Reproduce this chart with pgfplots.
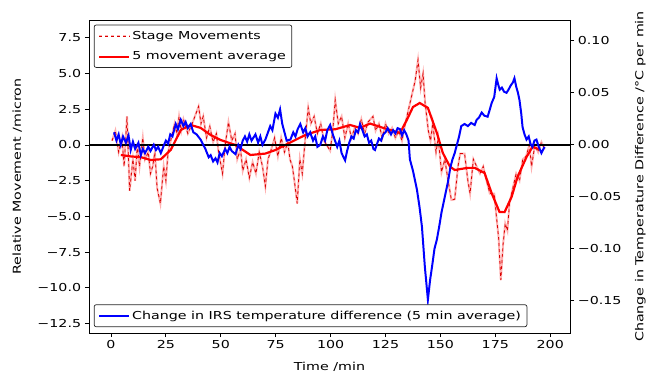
\documentclass[border=0pt]{standalone}
\usepackage{fontspec}
\setmainfont{DejaVu Sans}[FakeStretch=1.3]
\usepackage{pgfplots}
\pgfplotsset{compat=1.18}
\pgfplotsset{
  common/.style={
    scale only axis, width=481bp, height=313bp,
    xmin=-10, xmax=209,
    axis line style={line width=0.9pt, black},
    tick style={line width=0.8pt, black},
    major tick length=4bp, tick align=outside,
    /pgf/number format/assume math mode=true,
    legend cell align=left,
    legend style={draw=black!85, line width=0.7pt, rounded corners=2bp, fill=white,
      font=\fontsize{11}{13}\selectfont, inner xsep=4bp, inner ysep=4bp, row sep=7bp},
    legend image code/.code={\draw[#1] (0bp,0bp) -- (30bp,0bp);},
  }
}
\begin{document}
\fontsize{11}{13}\selectfont
\begin{tikzpicture}
\begin{axis}[common,
  ymin=-13.16, ymax=8.75,
  xtick pos=bottom, ytick pos=left,
  xtick={0,25,50,75,100,125,150,175,200},
  ytick={-12.5,-10,-7.5,-5,-2.5,0,2.5,5,7.5},
  yticklabels={−12.5,−10.0,−7.5,−5.0,−2.5,0.0,2.5,5.0,7.5},
  xlabel={Time /min}, ylabel={Relative Movement /micron},
  xlabel style={yshift=-6bp}, ylabel style={yshift=8bp},
  legend style={at={(0.01,0.985)}, anchor=north west},
]
\addplot[red!30, line width=2pt, forget plot] coordinates {
(0.5,0.3)(2,1.0)(3.5,-0.5)(5,0.5)(6,-1.5)(7.3,2.0)(8.5,-3.2)(10,-1.0)(11,-2.5)(12,0.0)
(13,-1.5)(14.5,0.5)(15.5,-1.0)(17,-0.5)(18,-2.0)(19,-1.5)(20,-0.5)(21,-3.0)(22.5,-4.1)(24,-1.5)
(25,-2.5)(26,-0.5)(27.5,0.5)(29,1.5)(30,0.8)(31,2.0)(32,1.0)(33,1.8)(35,0.8)(37,1.5)
(39.9,2.7)(41,1.5)(42,2.0)(43.5,0.5)(45,1.3)(46.5,0.2)(48,0.8)(49,-0.5)(50.8,-2.0)(52,0.0)
(53.5,1.6)(55,0.3)(56.5,0.8)(57.5,-1.0)(59,-0.3)(60,-1.8)(61.5,-1.0)(63,-2.3)(64.5,-1.2)(66,-2.0)
(67.5,-0.5)(69,-1.5)(70.3,-2.9)(71.5,-1.0)(73,-0.3)(74.5,0.5)(76,-0.8)(77.5,0.5)(79,-0.5)(80.5,0.2)
(81.5,-1.0)(82.6,-1.5)(83.5,-2.5)(84.8,-4.1)(86,-1.0)(87.1,-2.0)(88.5,0.5)(89.8,2.6)(91,1.5)(92.5,2.0)
(94,0.8)(95.5,1.5)(97,0.3)(99.8,-0.4)(101,1.0)(102.1,3.15)(103.5,1.5)(105,2.0)(106.5,0.5)(108,1.5)
(109.5,0.5)(111,1.2)(112.5,0.8)(114,1.8)(115.5,0.8)(117,1.6)(119.3,2.0)(120.5,1.0)(122,1.5)(123.5,0.5)
(125,1.5)(126.5,0.8)(128,1.2)(129.5,0.5)(131,1.0)(132.5,0.3)(134,1.5)(135.5,2.5)(137,3.5)(138.5,4.5)
(139.8,5.95)(141,4.0)(142.1,5.0)(143,3.0)(144.5,1.0)(145.5,0.3)(146.5,1.5)(148,-0.5)(149,0.5)(150.5,-1.9)
(152,-1.0)(153.5,-2.5)(155,-3.85)(156.5,-3.8)(158,-1.5)(159,-0.6)(161,-0.6)(162.5,-2.5)(163.5,-3.4)(165,-1.0)
(166.5,-1.5)(168,-2.0)(169.5,-1.5)(171,-2.5)(172.5,-3.4)(174.5,-3.4)(175.5,-5.0)(176.5,-6.5)(177.5,-9.45)(178.5,-7.0)
(179.5,-5.5)(180.5,-6.0)(181.5,-4.0)(183,-3.0)(184.5,-2.0)(186,-2.5)(187.5,-1.0)(189,-0.8)(190.5,0.0)(191.5,-1.5)
(193,0.0)(194.5,-0.5)(196,0.2)(197.5,-0.3)
};
\addplot[red!85!black, line width=0.8pt, dashed,
  legend image code/.code={\draw[red!30, line width=2pt] (0bp,0bp) -- (30bp,0bp); \draw[red!85!black, line width=0.8pt] (0bp,0bp) -- (30bp,0bp);}] coordinates {
(0.5,0.3)(2,1.0)(3.5,-0.5)(5,0.5)(6,-1.5)(7.3,2.0)(8.5,-3.2)(10,-1.0)(11,-2.5)(12,0.0)
(13,-1.5)(14.5,0.5)(15.5,-1.0)(17,-0.5)(18,-2.0)(19,-1.5)(20,-0.5)(21,-3.0)(22.5,-4.1)(24,-1.5)
(25,-2.5)(26,-0.5)(27.5,0.5)(29,1.5)(30,0.8)(31,2.0)(32,1.0)(33,1.8)(35,0.8)(37,1.5)
(39.9,2.7)(41,1.5)(42,2.0)(43.5,0.5)(45,1.3)(46.5,0.2)(48,0.8)(49,-0.5)(50.8,-2.0)(52,0.0)
(53.5,1.6)(55,0.3)(56.5,0.8)(57.5,-1.0)(59,-0.3)(60,-1.8)(61.5,-1.0)(63,-2.3)(64.5,-1.2)(66,-2.0)
(67.5,-0.5)(69,-1.5)(70.3,-2.9)(71.5,-1.0)(73,-0.3)(74.5,0.5)(76,-0.8)(77.5,0.5)(79,-0.5)(80.5,0.2)
(81.5,-1.0)(82.6,-1.5)(83.5,-2.5)(84.8,-4.1)(86,-1.0)(87.1,-2.0)(88.5,0.5)(89.8,2.6)(91,1.5)(92.5,2.0)
(94,0.8)(95.5,1.5)(97,0.3)(99.8,-0.4)(101,1.0)(102.1,3.15)(103.5,1.5)(105,2.0)(106.5,0.5)(108,1.5)
(109.5,0.5)(111,1.2)(112.5,0.8)(114,1.8)(115.5,0.8)(117,1.6)(119.3,2.0)(120.5,1.0)(122,1.5)(123.5,0.5)
(125,1.5)(126.5,0.8)(128,1.2)(129.5,0.5)(131,1.0)(132.5,0.3)(134,1.5)(135.5,2.5)(137,3.5)(138.5,4.5)
(139.8,5.95)(141,4.0)(142.1,5.0)(143,3.0)(144.5,1.0)(145.5,0.3)(146.5,1.5)(148,-0.5)(149,0.5)(150.5,-1.9)
(152,-1.0)(153.5,-2.5)(155,-3.85)(156.5,-3.8)(158,-1.5)(159,-0.6)(161,-0.6)(162.5,-2.5)(163.5,-3.4)(165,-1.0)
(166.5,-1.5)(168,-2.0)(169.5,-1.5)(171,-2.5)(172.5,-3.4)(174.5,-3.4)(175.5,-5.0)(176.5,-6.5)(177.5,-9.45)(178.5,-7.0)
(179.5,-5.5)(180.5,-6.0)(181.5,-4.0)(183,-3.0)(184.5,-2.0)(186,-2.5)(187.5,-1.0)(189,-0.8)(190.5,0.0)(191.5,-1.5)
(193,0.0)(194.5,-0.5)(196,0.2)(197.5,-0.3)
};
\addlegendentry{Stage Movements}
\addplot[red, line width=2.2pt] coordinates {
(4.5,-0.7)(9.1,-0.8)(13.6,-0.85)(18.1,-1.05)(22.7,-1.0)(27.2,-0.35)(31.8,1.05)(36.3,1.4)(40.8,1.2)(45.4,0.7)
(49.9,0.35)(56.7,0.0)(63.5,-0.7)(70.3,-0.6)(74.9,-0.35)(79.4,0.0)(83.9,0.35)(88.5,0.7)(95.3,1.05)(102.1,1.1)
(108.9,1.4)(113.4,1.2)(118.0,1.5)(123.9,1.2)(131.6,0.84)(134.7,1.75)(137.5,2.66)(140.6,2.94)(144.3,2.6)(148.4,0.84)
(151.1,-0.56)(154.3,-1.5)(156.5,-1.75)(162.4,-1.6)(165.6,-1.6)(170.1,-1.96)(173.3,-3.36)(176.9,-4.69)(179.2,-4.7)(182.4,-3.64)
(185.1,-2.24)(189.2,-0.84)(191.9,-0.14)(195.1,-0.3)
};
\addlegendentry{5 movement average}
\addplot[black, line width=1.2pt, forget plot] coordinates {(-10,0) (209,0)};
\end{axis}
\begin{axis}[common,
  ymin=-0.181, ymax=0.120,
  axis x line=none, axis y line*=right,
  ytick={-0.15,-0.10,-0.05,0,0.05,0.10},
  yticklabels={−0.15,−0.10,−0.05,0.00,0.05,0.10},
  ylabel={Change in Temperature Difference /°C per min},
  ylabel style={yshift=-6bp},
  legend style={at={(0.01,0.019)}, anchor=south west},
]
\addplot[blue, line width=2pt] coordinates {
(1.4,0.012)(2.5,0.004)(3.5,0.010)(4.5,0.0)(5.5,0.008)(6.8,0.002)(8,0.009)(9,-0.005)(10,0.003)(11,-0.004)
(12.5,0.002)(13.6,-0.010)(14.5,-0.004)(15.5,-0.008)(17,-0.002)(18,-0.006)(19.5,0.0)(20.5,-0.005)(21.5,-0.002)(22.7,-0.008)
(24,-0.001)(25,0.004)(26,0.001)(27,0.010)(28,0.008)(29.5,0.020)(30.5,0.015)(31.8,0.024)(33,0.018)(34,0.022)
(35,0.016)(36.3,0.020)(37.5,0.012)(39,0.010)(40.8,0.005)(42,0.0)(43,-0.004)(44.5,-0.012)(45.4,-0.010)(46.5,-0.016)
(47.6,-0.013)(48.5,-0.017)(49.5,-0.008)(50.5,-0.011)(52,-0.004)(53,-0.008)(54,-0.002)(55,-0.006)(56.7,-0.009)(58,0.0)
(59,-0.004)(60,0.004)(61,0.008)(62,0.003)(63,0.010)(64,0.004)(65.8,0.010)(67,0.002)(68,0.008)(69,0.0)
(70.3,0.005)(71.5,0.012)(72.5,0.018)(73.5,0.014)(74.9,0.030)(76,0.026)(77,0.034)(78,0.020)(79,0.012)(80,0.004)
(81.7,0.005)(83,0.012)(84,0.008)(85,0.015)(86.2,0.020)(87.5,0.012)(88.5,0.016)(89.5,0.008)(90.7,0.012)(92,0.004)
(93,0.008)(94,-0.002)(95.3,0.0)(96.5,0.008)(97.5,0.004)(98.5,0.014)(99.8,0.019)(101,0.010)(102,0.004)(103,-0.002)
(104,0.004)(105,-0.008)(106.6,-0.015)(107.5,-0.006)(108.5,0.002)(109.5,0.008)(110.5,0.006)(111.5,0.014)(112.5,0.012)(113.4,0.020)
(114.5,0.014)(115.5,0.008)(116.5,0.010)(117.5,0.002)(118.5,0.004)(119.5,-0.004)(120.2,-0.005)(121,0.0)(122,0.006)(123,0.004)
(124,0.010)(125,0.012)(126,0.016)(127.5,0.010)(128.5,0.014)(129.5,0.011)(130.5,0.016)(131.6,0.015)(132.5,0.009)(133.5,0.014)
(134.5,0.010)(135.5,0.004)(136.1,-0.014)(137.5,-0.025)(139.3,-0.043)(140.5,-0.060)(141.6,-0.079)(142.9,-0.117)(144.3,-0.149)(145.3,-0.130)
(146.2,-0.117)(147.3,-0.100)(148.4,-0.091)(149.5,-0.078)(150.5,-0.065)(151.5,-0.055)(152.5,-0.045)(153.5,-0.035)(154.5,-0.022)(155.5,-0.014)
(156.5,-0.008)(157.5,0.0)(158.5,0.008)(159.5,0.018)(161,0.020)(162.5,0.018)(164,0.021)(165.6,0.019)(166.5,0.024)(167.5,0.026)
(168.8,0.031)(170,0.028)(171.5,0.027)(172.5,0.034)(173.3,0.040)(174.5,0.046)(175.6,0.064)(176.3,0.058)(177,0.053)(178,0.055)
(179,0.051)(180.1,0.050)(181,0.053)(182,0.057)(183,0.060)(183.7,0.064)(184.5,0.056)(185.3,0.050)(186,0.043)(186.8,0.030)
(187.4,0.017)(188.3,0.010)(189.2,0.005)(190.2,0.008)(191,0.001)(191.9,-0.002)(192.8,0.004)(193.7,0.005)(194.8,-0.002)(196,-0.008)
(197.4,-0.002)
};
\addlegendentry{Change in IRS temperature difference (5 min average)}
\end{axis}
\pgfresetboundingbox
\path[use as bounding box] (-89bp,-45bp) rectangle (567bp,333bp);
\end{tikzpicture}
\end{document}
